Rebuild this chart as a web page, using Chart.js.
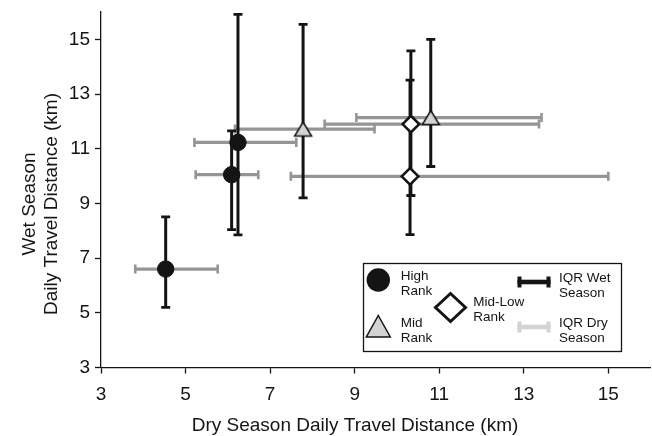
<!DOCTYPE html>
<html><head><meta charset="utf-8">
<script src="https://cdn.jsdelivr.net/npm/chart.js@4.4.1/dist/chart.umd.min.js"></script>
<style>html,body{margin:0;padding:0;background:#fff}canvas{display:block}</style>
</head><body>
<canvas id="c" width="652" height="436"></canvas>
<script>
// ---- data ----
const groupNames = ['High Rank', 'Mid Rank', 'Mid-Low Rank'];
const groupOf   = ['High Rank','High Rank','High Rank','Mid Rank','Mid Rank','Mid-Low Rank','Mid-Low Rank'];
const dryMedian = [4.53, 6.09, 6.24, 7.78, 10.80, 10.33, 10.31];
const wetMedian = [6.60, 10.05, 11.23, 11.72, 12.14, 11.90, 9.99];
const dryQ1     = [3.81, 5.24, 5.21, 6.17, 9.04, 8.29, 7.49];
const dryQ3     = [5.76, 6.72, 7.62, 9.47, 13.42, 13.36, 15.00];
const wetQ1     = [5.20, 8.04, 7.85, 9.20, 10.35, 9.29, 7.86];
const wetQ3     = [8.51, 11.65, 15.91, 15.55, 15.00, 14.58, 13.51];
const xTicks = [3, 5, 7, 9, 11, 13, 15];
const yTicks = [3, 5, 7, 9, 11, 13, 15];
const xTitle = 'Dry Season Daily Travel Distance (km)';
const yTitle = ['Wet Season', 'Daily Travel Distance (km)'];
const legendHigh = ['High', 'Rank'];
const legendMid = ['Mid', 'Rank'];
const legendMidLow = ['Mid-Low', 'Rank'];
const legendWet = ['IQR Wet', 'Season'];
const legendDry = ['IQR Dry', 'Season'];

const FONT = "'Liberation Sans', Arial, Helvetica, sans-serif";
const BLACK = '#141414';
const GREY_BAR = '#959595';
const LIGHT_GREY = '#d3d3d3';

function triangleImage(w, h, lw) {
  const c = document.createElement('canvas');
  c.width = Math.round(w + lw * 2 + 2);
  c.height = Math.round(h + lw * 2 + 2);
  const g = c.getContext('2d');
  const ox = c.width / 2, oy = c.height / 2;
  g.beginPath();
  g.moveTo(ox, oy - h / 2);
  g.lineTo(ox + w / 2, oy + h / 2);
  g.lineTo(ox - w / 2, oy + h / 2);
  g.closePath();
  g.fillStyle = LIGHT_GREY; g.fill();
  g.lineWidth = lw; g.lineJoin = 'miter'; g.strokeStyle = BLACK; g.stroke();
  return c;
}
const triImg = triangleImage(17, 14, 1.5);

function pointsFor(name) {
  const out = [];
  for (let i = 0; i < groupOf.length; i++) if (groupOf[i] === name) out.push({x: dryMedian[i], y: wetMedian[i]});
  return out;
}

const errorBars = {
  id: 'errorBars',
  beforeDatasetsDraw(chart) {
    const {ctx, scales: {x, y}} = chart;
    ctx.save();
    // dry-season IQR (horizontal, grey)
    ctx.strokeStyle = GREY_BAR;
    for (let i = 0; i < dryMedian.length; i++) {
      const py = y.getPixelForValue(wetMedian[i]);
      const x1 = x.getPixelForValue(dryQ1[i]);
      const x2 = x.getPixelForValue(dryQ3[i]);
      ctx.lineWidth = 3.2;
      ctx.beginPath(); ctx.moveTo(x1, py); ctx.lineTo(x2, py); ctx.stroke();
      ctx.lineWidth = 2.6;
      ctx.beginPath();
      ctx.moveTo(x1, py - 4.5); ctx.lineTo(x1, py + 4.5);
      ctx.moveTo(x2, py - 4.5); ctx.lineTo(x2, py + 4.5);
      ctx.stroke();
    }
    // wet-season IQR (vertical, black)
    ctx.strokeStyle = BLACK;
    for (let i = 0; i < dryMedian.length; i++) {
      const px = x.getPixelForValue(dryMedian[i]);
      const y1 = y.getPixelForValue(wetQ1[i]);
      const y2 = y.getPixelForValue(wetQ3[i]);
      ctx.lineWidth = 3;
      ctx.beginPath(); ctx.moveTo(px, y1); ctx.lineTo(px, y2); ctx.stroke();
      ctx.lineWidth = 2.8;
      ctx.beginPath();
      ctx.moveTo(px - 4.5, y1); ctx.lineTo(px + 4.5, y1);
      ctx.moveTo(px - 4.5, y2); ctx.lineTo(px + 4.5, y2);
      ctx.stroke();
    }
    ctx.restore();
  }
};

const titlesAndLegend = {
  id: 'titlesAndLegend',
  afterDraw(chart) {
    const ctx = chart.ctx;
    ctx.save();
    ctx.fillStyle = BLACK;
    // axis titles
    ctx.font = '19px ' + FONT;
    ctx.textAlign = 'center'; ctx.textBaseline = 'alphabetic';
    ctx.fillText(xTitle, 355, 431);
    ctx.save();
    ctx.translate(0, 204);
    ctx.rotate(-Math.PI / 2);
    ctx.fillText(yTitle[0], 0, 35);
    ctx.fillText(yTitle[1], 0, 56.5);
    ctx.restore();

    // legend box
    ctx.lineWidth = 1.3; ctx.strokeStyle = BLACK;
    ctx.strokeRect(363.5, 263.5, 258, 88);
    // circle
    ctx.beginPath(); ctx.arc(378.3, 280, 11.7, 0, Math.PI * 2); ctx.fillStyle = BLACK; ctx.fill();
    // triangle
    ctx.beginPath(); ctx.moveTo(378.3, 315.5); ctx.lineTo(390.3, 337); ctx.lineTo(366.3, 337); ctx.closePath();
    ctx.fillStyle = LIGHT_GREY; ctx.fill(); ctx.lineWidth = 1.5; ctx.strokeStyle = BLACK; ctx.stroke();
    // diamond
    ctx.beginPath(); ctx.moveTo(450.5, 293.5); ctx.lineTo(465.5, 307.5); ctx.lineTo(450.5, 321.5); ctx.lineTo(435.5, 307.5); ctx.closePath();
    ctx.fillStyle = '#ffffff'; ctx.fill(); ctx.lineWidth = 3; ctx.lineJoin = 'miter'; ctx.stroke();
    // IQR symbols
    function iqr(yc, col) {
      ctx.fillStyle = col;
      ctx.fillRect(517.5, yc - 2.3, 33, 4.6);
      ctx.fillRect(517.5, yc - 5.5, 4, 11);
      ctx.fillRect(546.5, yc - 5.5, 4, 11);
    }
    iqr(282, BLACK);
    iqr(327, LIGHT_GREY);
    // legend labels
    ctx.fillStyle = BLACK;
    ctx.font = '13.5px ' + FONT; ctx.textAlign = 'left'; ctx.textBaseline = 'alphabetic';
    function lbl(lines, x, y) { lines.forEach((t, k) => ctx.fillText(t, x, y + k * 15)); }
    lbl(legendHigh, 400.7, 280);
    lbl(legendMid, 400.7, 326.7);
    lbl(legendMidLow, 473.3, 305.7);
    lbl(legendWet, 559, 281.7);
    lbl(legendDry, 559, 326.7);
    ctx.restore();
  }
};

const axisCommon = (ticksArr) => ({
  type: 'linear',
  min: 3, max: 16,
  afterBuildTicks(scale) { scale.ticks = ticksArr.map(v => ({value: v})); },
  grid: { display: true, drawOnChartArea: false, drawTicks: true, tickLength: 6, tickWidth: 1.3, tickColor: BLACK },
  border: { display: true, color: BLACK, width: 1.3 },
  title: { display: false },
});

const xAxis = Object.assign(axisCommon(xTicks), {
  position: 'bottom',
  ticks: { color: BLACK, font: {family: FONT, size: 19}, padding: 9.5, maxRotation: 0, autoSkip: false },
  afterFit(scale) { scale.height = 68.5; scale.paddingLeft = 0; scale.paddingRight = 0; }
});
const yAxis = Object.assign(axisCommon(yTicks), {
  position: 'left',
  ticks: { color: BLACK, font: {family: FONT, size: 19}, padding: 5, autoSkip: false },
  afterFit(scale) { scale.width = 101; scale.paddingTop = 0; scale.paddingBottom = 0; }
});

new Chart(document.getElementById('c'), {
  type: 'scatter',
  data: {
    datasets: [
      { label: groupNames[0], data: pointsFor(groupNames[0]), pointStyle: 'circle', pointRadius: 8.2, backgroundColor: BLACK, borderColor: BLACK, borderWidth: 1 },
      { label: groupNames[1], data: pointsFor(groupNames[1]), pointStyle: triImg, pointRadius: 9, backgroundColor: LIGHT_GREY, borderColor: BLACK, borderWidth: 1.5 },
      { label: groupNames[2], data: pointsFor(groupNames[2]), pointStyle: 'rectRot', pointRadius: 8.3, backgroundColor: '#ffffff', borderColor: BLACK, borderWidth: 2.6 }
    ]
  },
  options: {
    responsive: false,
    animation: false,
    events: [],
    layout: { autoPadding: false, padding: { top: 12, right: 1.4, left: 0, bottom: 0 } },
    plugins: { legend: { display: false }, tooltip: { enabled: false }, title: { display: false } },
    scales: { x: xAxis, y: yAxis }
  },
  plugins: [errorBars, titlesAndLegend]
});
</script>
</body></html>
